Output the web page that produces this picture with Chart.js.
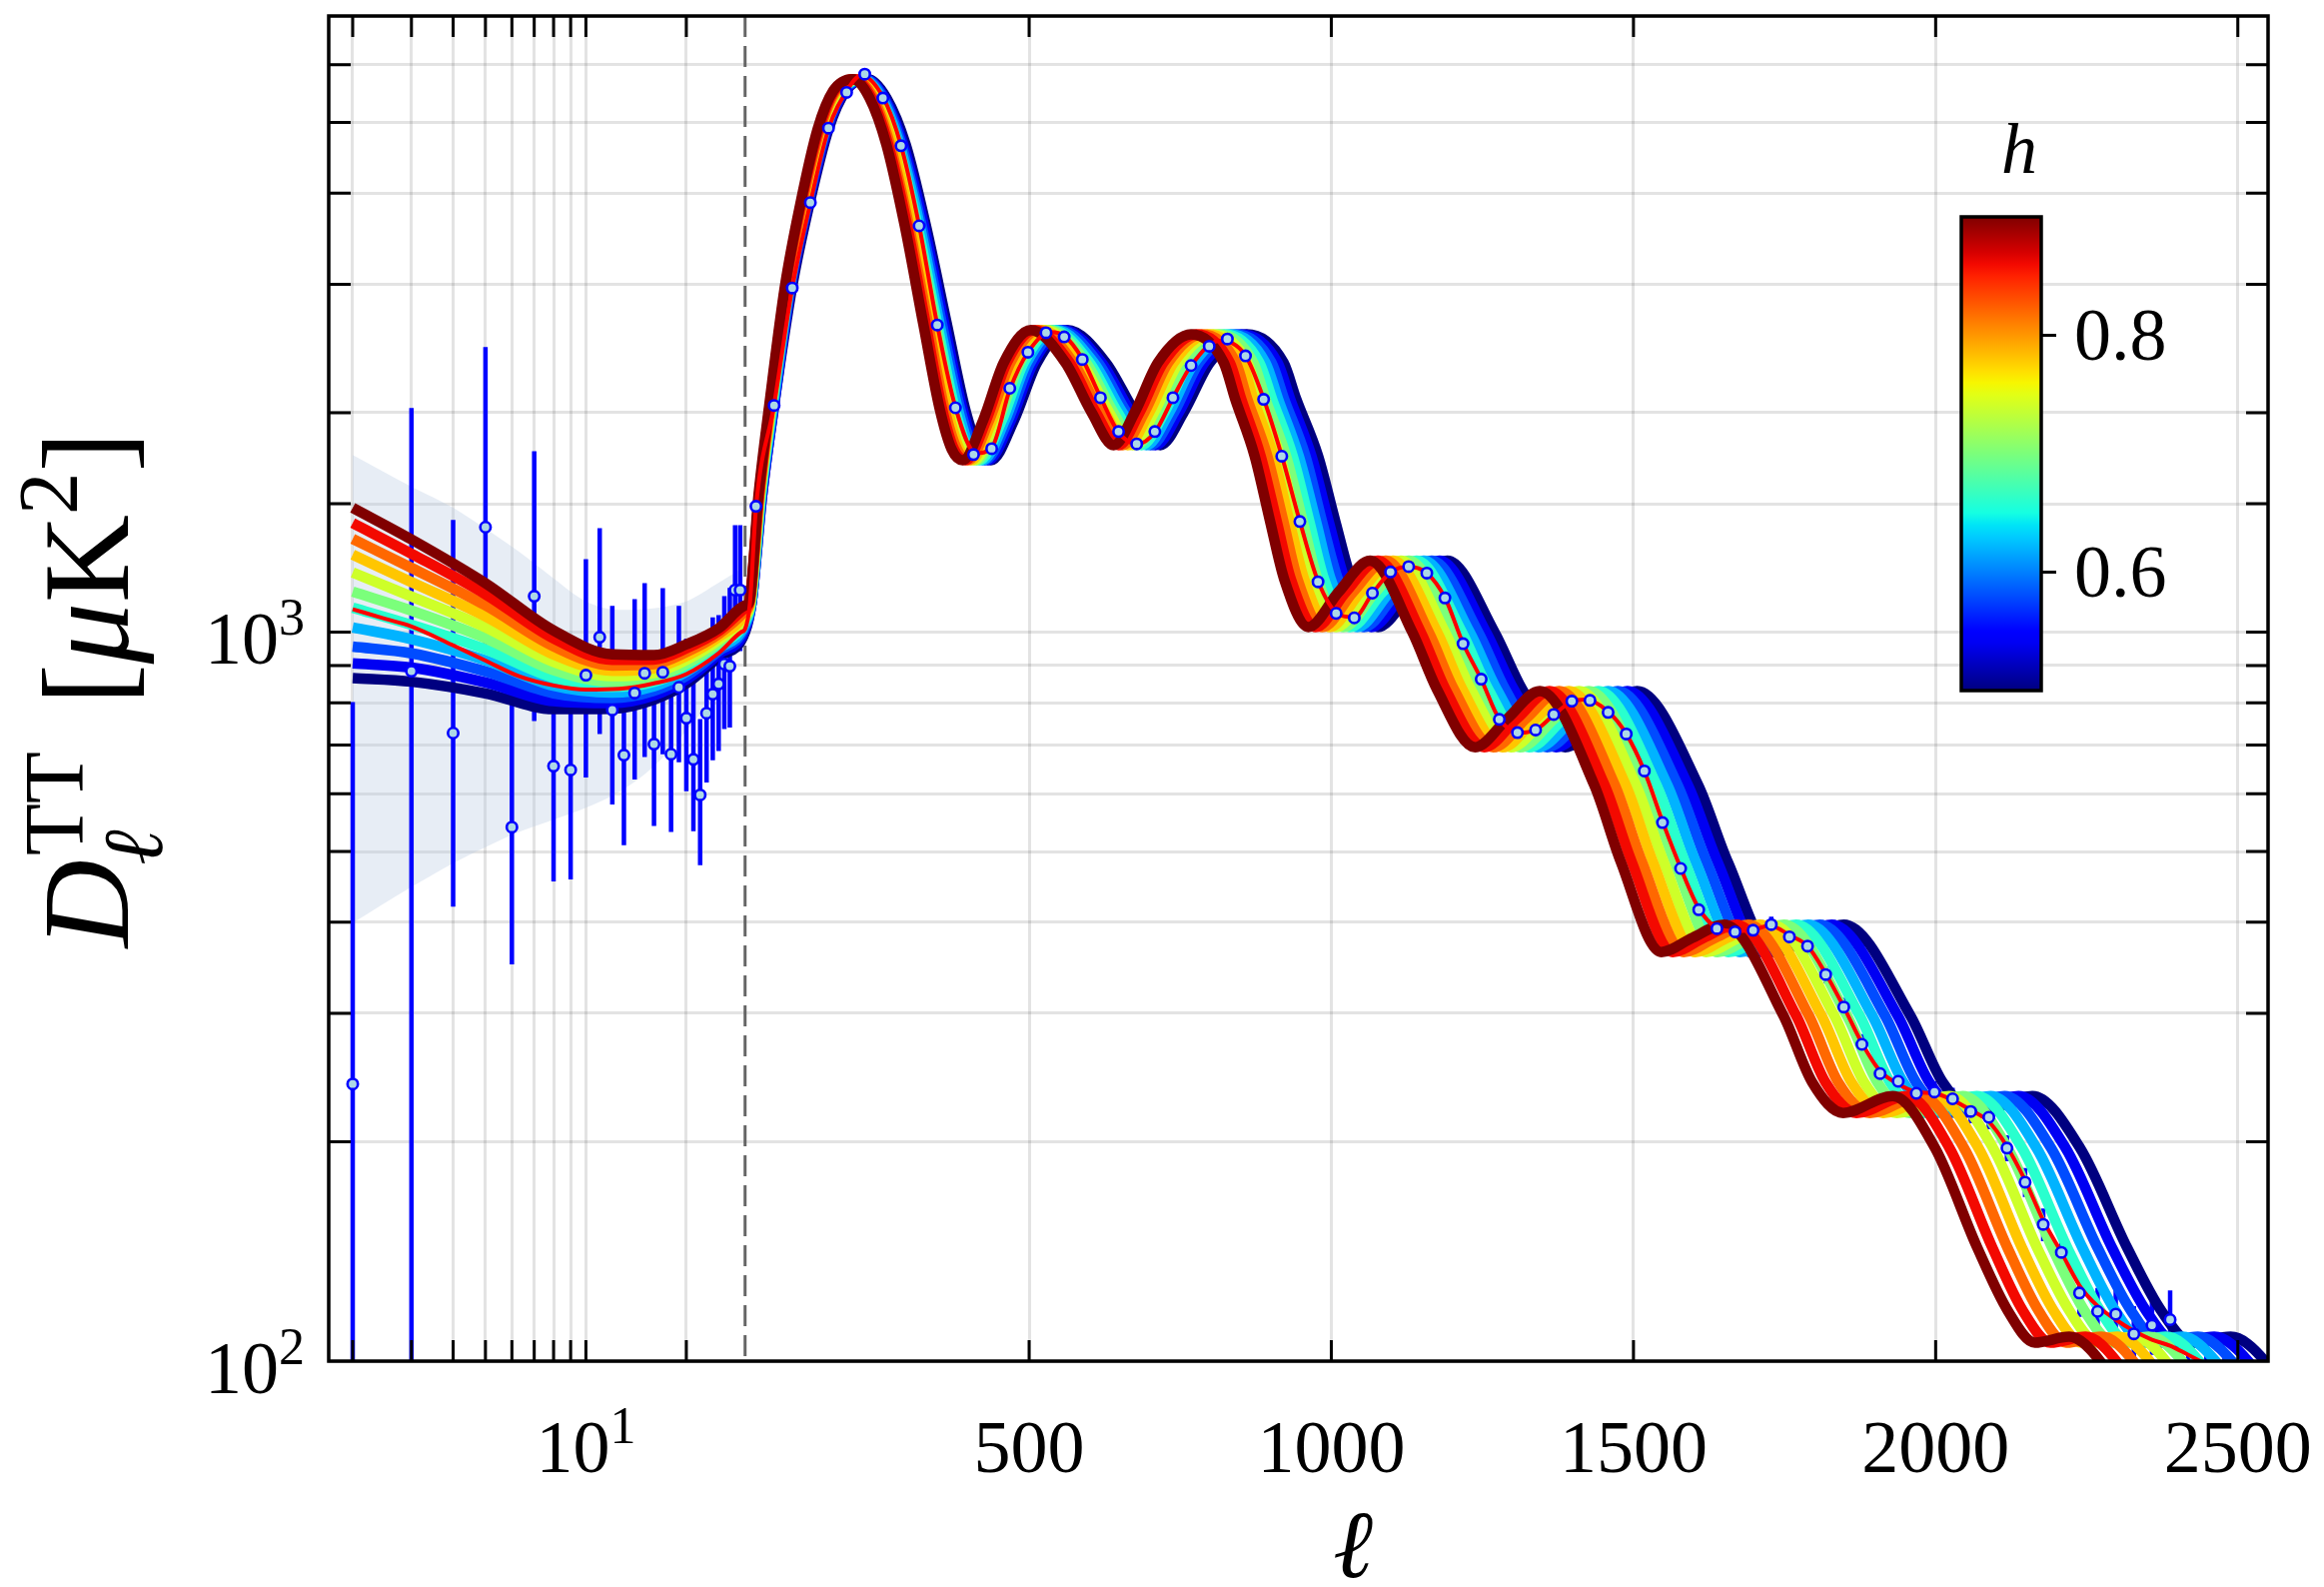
<!DOCTYPE html>
<html>
<head>
<meta charset="utf-8">
<title>CMB TT spectrum</title>
<script src="https://cdn.jsdelivr.net/npm/chart.js@4.4.1/dist/chart.umd.min.js"></script>
<style>
html,body{margin:0;padding:0;background:#ffffff;overflow:hidden;}
#wrap{width:2326px;height:1588px;}
canvas{display:block;}
</style>
</head>
<body>
<div id="wrap"><canvas id="chart" width="2326" height="1588"></canvas></div>
<script>
// ================= DATA =================
const hValues = [0.50,0.54,0.58,0.62,0.66,0.70,0.74,0.78,0.82,0.86,0.90];
const hTicks = [0.6, 0.8];

// low-ell part of each model curve (ell = 2..30), one row per h value
const lowEll = [2,3,5,8,12,16,20,25,30];
const lowCurves = [
  [865, 855, 824, 784, 785, 808, 850, 925, 1000],
  [906, 894, 853, 804, 799, 819, 861, 933, 1008],
  [955, 935, 883, 824, 812, 831, 871, 942, 1017],
  [1015, 978, 915, 844, 826, 843, 882, 950, 1025],
  [1080, 1023, 947, 866, 841, 855, 893, 959, 1034],
  [1136, 1070, 981, 887, 855, 867, 904, 967, 1043],
  [1207, 1119, 1015, 910, 870, 879, 916, 976, 1051],
  [1277, 1171, 1051, 932, 885, 892, 927, 985, 1060],
  [1342, 1225, 1088, 956, 900, 904, 939, 994, 1069],
  [1411, 1281, 1127, 980, 916, 917, 950, 1003, 1079],
  [1481, 1340, 1167, 1005, 932, 930, 962, 1012, 1088]
];

// high-ell part: shared D levels, per-curve ell positions
const highD = [1100,1534,2046,2982,3885,4895,5529,5735,5403,4658,3616,2643,2024,1780,1721,1953,2342,2596,2342,2004,1805,2004,2342,2562,2342,2087,1745,1415,1182,1016,1135,1253,1000,834,695,762,830,617,484,364,381,397,298,241,219,231,196,143,117,106,108,100,82];
const highEll = [
  [41,58,78,108,137,168,197,233,264,296,329,364,394,417,437,475,513,563,627,675,717,756,799,860,921,942,978,1007,1033,1077,1133,1192,1270,1316,1387,1447,1506,1607,1656,1732,1790,1848,1958,2012,2069,2160,2239,2317,2374,2424,2488,2545,2610],
  [41,58,78,106,135,166,195,230,261,292,326,360,390,412,432,470,507,557,620,668,709,748,790,851,911,932,967,996,1022,1066,1121,1179,1256,1302,1372,1432,1490,1590,1639,1713,1771,1828,1937,1990,2046,2137,2215,2292,2349,2398,2461,2517,2582],
  [41,57,77,105,134,164,193,228,259,289,322,356,386,408,427,465,502,551,614,661,701,740,781,842,901,922,957,985,1011,1054,1109,1166,1243,1288,1357,1416,1474,1573,1621,1694,1751,1808,1916,1968,2024,2114,2191,2268,2324,2372,2434,2490,2554],
  [40,56,76,104,132,163,191,225,256,286,319,352,382,403,423,460,496,545,607,654,694,732,773,833,891,912,946,975,999,1043,1097,1153,1229,1274,1342,1401,1458,1556,1603,1676,1732,1789,1895,1947,2002,2091,2167,2243,2298,2346,2408,2463,2526],
  [40,56,75,103,131,161,189,223,253,283,315,348,377,399,418,455,491,539,600,646,686,724,764,823,881,902,936,964,988,1031,1085,1141,1216,1260,1327,1385,1442,1538,1585,1657,1713,1769,1874,1925,1980,2068,2143,2218,2273,2320,2381,2436,2498],
  [39,55,74,102,129,159,187,220,250,280,312,345,373,394,413,449,485,533,594,639,678,716,756,814,871,891,925,953,977,1020,1073,1128,1202,1245,1312,1370,1426,1521,1568,1639,1694,1749,1853,1904,1958,2045,2119,2193,2247,2294,2354,2408,2470],
  [39,54,73,101,128,157,184,218,247,277,308,341,369,390,409,444,480,527,587,632,671,707,747,805,861,881,915,942,966,1008,1061,1115,1188,1231,1297,1354,1410,1504,1550,1620,1675,1729,1832,1882,1936,2022,2095,2168,2222,2268,2328,2381,2442],
  [38,54,73,99,126,155,182,215,244,274,305,337,365,385,404,439,474,521,580,625,663,699,739,796,852,871,904,931,955,997,1048,1102,1175,1217,1283,1339,1393,1487,1532,1602,1656,1709,1811,1861,1913,1998,2071,2143,2196,2242,2301,2354,2414],
  [38,53,72,98,125,154,180,213,242,270,301,333,360,381,399,434,469,515,573,617,655,691,730,786,842,861,894,921,944,985,1036,1090,1161,1203,1268,1323,1377,1469,1514,1583,1636,1690,1790,1839,1891,1975,2047,2119,2171,2216,2274,2327,2386],
  [37,53,71,97,123,152,178,210,239,267,298,329,356,376,395,429,463,509,567,610,648,683,722,777,832,851,883,910,933,974,1024,1077,1148,1189,1253,1308,1361,1452,1497,1565,1617,1670,1769,1818,1869,1952,2023,2094,2145,2190,2248,2299,2358],
  [37,52,70,96,122,150,176,208,236,264,294,325,352,372,390,424,458,503,560,603,640,675,713,768,822,841,873,899,922,962,1012,1064,1134,1175,1238,1292,1345,1435,1479,1546,1598,1650,1748,1796,1847,1929,1999,2069,2120,2164,2221,2272,2330]
];

// fiducial (thin red) curve
const fidEll = [2,2.5,3,4,5,6.3,8,10,12.6,15.9,20,25,29.2,30,38,48,78,108,138,168,198,222,258,288,318,348,378,412,438,468,498,535,558,588,618,648,678,708,738,768,815,858,888,918,948,978,1012,1038,1068,1098,1128,1158,1188,1218,1248,1278,1312,1338,1368,1398,1420,1458,1488,1518,1548,1578,1608,1638,1668,1698,1725,1758,1788,1818,1848,1878,1908,1938,1968,1998,2028,2058,2088,2118,2148,2178,2208,2238,2268,2298,2328,2358,2388,2418,2448,2478,2520];
const fidD = [1075,1043,1018,959,914,870,845,834,836,850,876,936,1000,1010,1095,1480,2050,2960,3880,4900,5520,5800,5420,4650,3610,2640,2035,1760,1790,2150,2420,2580,2550,2370,2100,1880,1810,1880,2095,2320,2510,2395,2090,1745,1418,1175,1058,1048,1130,1208,1230,1205,1115,965,862,760,728,734,770,803,808,778,725,645,550,475,418,393,389,390,396,384,371,340,306,273,250,240,234,233,228,221,213,197,177,156,141,127,119,114,110,107,105,102,99,96,92];

// shaded band at low ell
const bandEll = [2,3,4,5,6.3,8,10,12.6,15.9,20,25.1,29.2];
const bandUp  = [1750,1583,1481,1386,1289,1185,1102,1073,1078,1102,1170,1221];
const bandLo  = [399,447,482,507,532,553,574,604,653,732,845,1000];

// low-ell data points with asymmetric error bars
const lowDataEll = [2,3,4,5,6,7,8,9,10,11,12,13,14,15,16,17,18,19,20,21,22,23,24,25,26,27,28,29];
const lowDataD   = [240,884,727,1393,540,1120,655,647,873,984,782,678,825,878,702,881,680,840,762,669,598,774,822,849,904,898,1142,1142];
const lowErrUp   = [802,2030,1425,2460,820,1771,994,957,1259,1389,1086,920,1110,1167,930,1149,900,1086,980,854,760,966,1048,1055,1120,1150,1402,1402];
const lowErrLo   = [30,30,420,950,350,755,455,458,632,725,580,510,628,674,542,680,532,663,605,533,479,622,667,687,736,740,942,942];

// binned high-ell data points with symmetric error bars
const highDataEll = [48,78,108,138,168,198,228,258,288,318,348,378,408,438,468,498,528,558,588,618,648,678,708,738,768,798,828,858,888,918,948,978,1008,1038,1068,1098,1128,1158,1188,1218,1248,1278,1308,1338,1368,1398,1428,1458,1488,1518,1548,1578,1608,1638,1668,1698,1728,1758,1788,1818,1848,1878,1908,1938,1968,1998,2028,2058,2088,2118,2148,2178,2208,2238,2268,2298,2328,2358,2388,2418,2448,2478];
const highDataD = [1488,2046,2965,3883,4913,5499,5825,5403,4647,3608,2638,2031,1752,1785,2160,2421,2574,2541,2366,2097,1884,1812,1884,2097,2321,2467,2524,2393,2086,1743,1418,1172,1061,1046,1131,1209,1230,1205,1114,964,862,759,728,734,771,804,806,776,725,645,548,474,416,392,388,390,397,382,371,339,306,272,248,242,233,234,229,220,216,196,176,154,141,124,117,116,109,112,114,97,94,92];
const highDataErr = [60,55,55,55,55,55,55,50,45,40,35,30,28,26,26,26,25,25,24,22,21,20,20,20,20,20,20,20,18,17,16,15,15,15,15,15,15,14,14,13,12,12,12,12,12,12,12,11,11,11,10,10,10,10,10,10,10,10,9,9,9,9,8,8,8,8,8,8,8,8,8,8,8,9,9,9,10,10,11,11,12,12];

// axis ticks
const xTickVals  = [2,3,4,5,6,7,8,9,10,20,500,1000,1500,2000,2500];
const xLabelVals = [10,500,1000,1500,2000,2500];
const yLabelVals = [100,1000];
const splitEll = 30;

// ================= STYLE HELPERS =================
const SERIF = "'Liberation Serif','DejaVu Serif','Times New Roman',serif";
function fnt(size, italic) { return (italic ? 'italic ' : '') + size + 'px ' + SERIF; }
function seg(segs, t) {
  for (let i = 0; i < segs.length - 1; i++) {
    const [x0, y0] = segs[i], [x1, y1] = segs[i + 1];
    if (t <= x1) return y0 + (y1 - y0) * (t - x0) / (x1 - x0);
  }
  return segs[segs.length - 1][1];
}
const JR = [[0,0],[0.35,0],[0.66,1],[0.89,1],[1,0.5]];
const JG = [[0,0],[0.125,0],[0.375,1],[0.64,1],[0.91,0],[1,0]];
const JB = [[0,0.5],[0.11,1],[0.34,1],[0.65,0],[1,0]];
function jet(t) {
  return 'rgb(' + Math.round(255 * seg(JR, t)) + ',' + Math.round(255 * seg(JG, t)) + ',' + Math.round(255 * seg(JB, t)) + ')';
}
const hMin = Math.min(...hValues), hMax = Math.max(...hValues);

// ================= CUSTOM SPLIT SCALE (log below split, linear above) =================
class SplitLogLinearScale extends Chart.Scale {
  determineDataLimits() { this.min = this.options.min; this.max = this.options.max; }
  buildTicks() { return (this.options.tickValues || []).map(v => ({ value: v })); }
  getLabelForValue(v) { return String(v); }
  _frac(v) {
    const s = this.options.split, f = this.options.splitFraction;
    if (v <= s) {
      const l0 = Math.log10(this.min), l1 = Math.log10(s);
      return f * (Math.log10(Math.max(v, 1e-9)) - l0) / (l1 - l0);
    }
    return f + (1 - f) * (v - s) / (this.max - s);
  }
  getPixelForValue(v) {
    if (v === null || v === undefined || isNaN(v)) return NaN;
    return this.getPixelForDecimal(this._frac(v));
  }
  getValueForPixel(p) {
    const d = this.getDecimalForPixel(p), s = this.options.split, f = this.options.splitFraction;
    if (d <= f) { const l0 = Math.log10(this.min), l1 = Math.log10(s); return Math.pow(10, l0 + (d / f) * (l1 - l0)); }
    return s + (d - f) / (1 - f) * (this.max - s);
  }
}
SplitLogLinearScale.id = 'splitloglinear';
SplitLogLinearScale.defaults = {};
Chart.register(SplitLogLinearScale);

// ================= DATASETS =================
const datasets = [];
// band (index 0 fills to index 1)
datasets.push({
  data: bandEll.map((l, i) => ({ x: l, y: bandUp[i] })),
  borderColor: 'rgba(0,0,0,0)', borderWidth: 1, pointRadius: 0,
  backgroundColor: 'rgba(176,196,222,0.30)', fill: '+1',
  cubicInterpolationMode: 'monotone', order: 31, clip: 0
});
datasets.push({
  data: bandEll.map((l, i) => ({ x: l, y: bandLo[i] })),
  borderColor: 'rgba(0,0,0,0)', borderWidth: 1, pointRadius: 0, fill: false,
  cubicInterpolationMode: 'monotone', order: 30, clip: 0
});
// error bars
const ebLow = [];
lowDataEll.forEach((l, i) => { ebLow.push({ x: l, y: lowErrLo[i] }, { x: l, y: lowErrUp[i] }, { x: l, y: null }); });
const ebHigh = [];
highDataEll.forEach((l, i) => { ebHigh.push({ x: l, y: highDataD[i] - highDataErr[i] }, { x: l, y: highDataD[i] + highDataErr[i] }, { x: l, y: null }); });
[ebLow, ebHigh].forEach(d => datasets.push({
  data: d, borderColor: '#0000ff', borderWidth: 4.5, pointRadius: 0, tension: 0,
  spanGaps: false, fill: false, order: 20, clip: 0, borderCapStyle: 'butt'
}));
// model curves
hValues.forEach((h, i) => {
  const pts = lowEll.map((l, j) => ({ x: l, y: lowCurves[i][j] }))
    .concat(highEll[i].map((l, k) => ({ x: l, y: highD[k] })));
  datasets.push({
    data: pts, borderColor: jet((h - hMin) / (hMax - hMin)), borderWidth: 10.5,
    pointRadius: 0, fill: false, cubicInterpolationMode: 'monotone',
    borderJoinStyle: 'round', order: 2 + (hValues.length - 1 - i), clip: 0
  });
});
// fiducial
datasets.push({
  data: fidEll.map((l, i) => ({ x: l, y: fidD[i] })),
  borderColor: '#ff0000', borderWidth: 4, pointRadius: 0, fill: false,
  cubicInterpolationMode: 'monotone', order: 1, clip: 0
});
// markers
[[lowDataEll, lowDataD], [highDataEll, highDataD]].forEach(([ls, ds]) => datasets.push({
  data: ls.map((l, i) => ({ x: l, y: ds[i] })), showLine: false,
  pointRadius: 5.2, pointBorderWidth: 2.6, pointBackgroundColor: '#add8e6',
  pointBorderColor: '#0000ff', order: 0, clip: 0
}));

// ================= DECOR PLUGIN =================
function drawParts(ctx, parts, x, y, align) {
  let w = 0;
  const ws = parts.map(p => { ctx.font = fnt(p.s, p.i); const m = ctx.measureText(p.t).width; w += m; return m; });
  let cx = align === 'center' ? x - w / 2 : (align === 'right' ? x - w : x);
  parts.forEach((p, k) => { ctx.font = fnt(p.s, p.i); ctx.fillText(p.t, cx, y + (p.dy || 0)); cx += ws[k]; });
}
const CB = { left: 1963, right: 2043, top: 217, bottom: 691 };
const decor = {
  id: 'decor',
  beforeDatasetsDraw(chart) {
    const { ctx, chartArea: a } = chart;
    const px = chart.scales.x.getPixelForValue(splitEll);
    ctx.save();
    ctx.strokeStyle = 'rgba(85,85,85,0.9)'; ctx.lineWidth = 3; ctx.setLineDash([21, 9]);
    ctx.beginPath(); ctx.moveTo(px, a.top); ctx.lineTo(px, a.bottom); ctx.stroke();
    ctx.restore();
  },
  afterDatasetsDraw(chart) {
    const { ctx, chartArea: a } = chart;
    const xs = chart.scales.x, ys = chart.scales.y;
    ctx.save();
    ctx.strokeStyle = '#000'; ctx.lineWidth = 3;
    ctx.beginPath();
    ys.ticks.forEach(t => {
      const y = ys.getPixelForValue(t.value);
      if (y <= a.top + 2 || y >= a.bottom - 2) return;
      ctx.moveTo(a.left, y); ctx.lineTo(a.left + 22, y);
      ctx.moveTo(a.right, y); ctx.lineTo(a.right - 22, y);
    });
    xs.ticks.forEach(t => {
      const x = xs.getPixelForValue(t.value);
      ctx.moveTo(x, a.bottom); ctx.lineTo(x, a.bottom - 21);
      ctx.moveTo(x, a.top); ctx.lineTo(x, a.top + 21);
    });
    ctx.stroke();
    ctx.lineWidth = 3.5;
    ctx.strokeRect(a.left, a.top, a.right - a.left, a.bottom - a.top);
    // colorbar
    const g = ctx.createLinearGradient(0, CB.bottom, 0, CB.top);
    for (let k = 0; k <= 40; k++) g.addColorStop(k / 40, jet(k / 40));
    ctx.fillStyle = g;
    ctx.fillRect(CB.left, CB.top, CB.right - CB.left, CB.bottom - CB.top);
    ctx.lineWidth = 3.5;
    ctx.strokeRect(CB.left, CB.top, CB.right - CB.left, CB.bottom - CB.top);
    ctx.lineWidth = 3;
    ctx.beginPath();
    hTicks.forEach(h => {
      const y = CB.bottom - (h - hMin) / (hMax - hMin) * (CB.bottom - CB.top);
      ctx.moveTo(CB.right, y); ctx.lineTo(CB.right + 15, y);
    });
    ctx.stroke();
    ctx.restore();
  },
  afterDraw(chart) {
    const { ctx, chartArea: a } = chart;
    const xs = chart.scales.x, ys = chart.scales.y;
    ctx.save();
    ctx.fillStyle = '#000'; ctx.textBaseline = 'alphabetic';
    const FS = 74, SUP = 52;
    xLabelVals.forEach(v => {
      const x = xs.getPixelForValue(v);
      const parts = v <= splitEll
        ? [{ t: '10', s: FS }, { t: String(Math.round(Math.log10(v))), s: SUP, dy: -29 }]
        : [{ t: String(v), s: FS }];
      drawParts(ctx, parts, x, a.bottom + 111, 'center');
    });
    yLabelVals.forEach(v => {
      const y = ys.getPixelForValue(v);
      drawParts(ctx, [{ t: '10', s: FS }, { t: String(Math.round(Math.log10(v))), s: SUP, dy: -29 }], a.left - 24, y + 32, 'right');
    });
    // colorbar labels
    hTicks.forEach(h => {
      const y = CB.bottom - (h - hMin) / (hMax - hMin) * (CB.bottom - CB.top);
      drawParts(ctx, [{ t: h.toFixed(1), s: FS }], CB.right + 33, y + 24, 'left');
    });
    drawParts(ctx, [{ t: 'h', s: 72, i: true }], (CB.left + CB.right) / 2 + 18, 173, 'center');
    // x title
    drawParts(ctx, [{ t: 'ℓ', s: 96, i: true }], 1354, 1578, 'center');
    // y title (rotated)
    ctx.translate(128, 690);
    ctx.rotate(-Math.PI / 2);
    const F = 122, S = Math.round(F * 0.7);
    ctx.font = fnt(F, true); const wD = ctx.measureText('D').width;
    ctx.font = fnt(S, false); const wTT = ctx.measureText('TT').width;
    ctx.font = fnt(S, true); const wl = ctx.measureText('ℓ').width;
    const wStack = Math.max(wTT, wl);
    const gap = F * 0.42;
    const rest = [{ t: '[', s: F }, { t: 'μ', s: F, i: true }, { t: 'K', s: F }, { t: '2', s: S, dy: -F * 0.42 }, { t: ']', s: F }];
    let wRest = 0; rest.forEach(p => { ctx.font = fnt(p.s, p.i); wRest += ctx.measureText(p.t).width; });
    const total = wD + wStack + gap + wRest;
    let cx = -total / 2;
    ctx.font = fnt(F, true); ctx.fillText('D', cx, 0); cx += wD;
    ctx.font = fnt(S, false); ctx.fillText('TT', cx + 4, -F * 0.37);
    ctx.font = fnt(S, true); ctx.fillText('ℓ', cx - 6, F * 0.28);
    cx += wStack + gap;
    drawParts(ctx, rest, cx, 0, 'left');
    ctx.restore();
  }
};

// ================= CHART =================
new Chart(document.getElementById('chart'), {
  type: 'line',
  data: { datasets },
  options: {
    responsive: false, animation: false, devicePixelRatio: 1, events: [],
    layout: { padding: { left: 329, right: 56, top: 16, bottom: 226 } },
    plugins: { legend: { display: false }, tooltip: { enabled: false }, filler: { propagate: false } },
    scales: {
      x: {
        type: 'splitloglinear', position: 'bottom', min: 1.695, max: 2550, split: splitEll, splitFraction: 0.2147,
        tickValues: xTickVals,
        ticks: { display: false },
        grid: { color: 'rgba(0,0,0,0.11)', lineWidth: 3, drawTicks: false },
        border: { display: false }
      },
      y: {
        type: 'logarithmic', position: 'left', min: 100, max: 7000,
        ticks: { display: false },
        grid: { color: 'rgba(0,0,0,0.11)', lineWidth: 3, drawTicks: false },
        border: { display: false }
      }
    }
  },
  plugins: [decor]
});
</script>
</body>
</html>
